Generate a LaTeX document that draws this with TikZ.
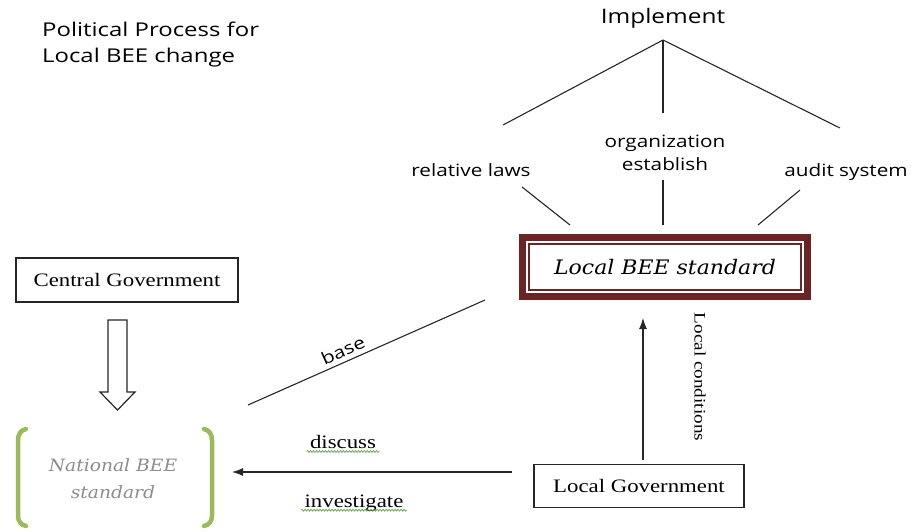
\documentclass[tikz,border=0pt]{standalone}
\usepackage{fontspec}
\setmainfont[FakeStretch=1.2]{Liberation Serif}
\newfontfamily\procsans[FakeStretch=1.22]{Open Sans}
\newfontfamily\titlesans[FakeStretch=1.26]{Open Sans}
\newfontfamily\stdserif[FakeStretch=1.1]{DejaVu Serif}
\usetikzlibrary{arrows.meta,positioning,fit,decorations.pathmorphing}
\definecolor{framered}{HTML}{6A2424}
\definecolor{bracketgreen}{HTML}{9BBB59}
\definecolor{spellgreen}{HTML}{4E9A3A}

\begin{document}
\begin{tikzpicture}[x=1pt, y=-1pt,
    heading/.style={font=\titlesans\fontsize{19}{26}\selectfont, align=left, anchor=west, inner sep=0pt},
    tag/.style={font=\procsans\fontsize{17}{23}\selectfont, align=center, inner sep=0pt},
    govbox/.style={draw=black!85, line width=1.3pt, font=\fontsize{19}{22}\selectfont},
    stdbox/.style={draw=framered, line width=1.6pt, minimum width=272pt, minimum height=46pt,
        font=\stdserif\itshape\fontsize{20}{22}\selectfont},
    edge/.style={draw=black!85, line width=1.1pt},
    spell/.style={draw=spellgreen, line width=0.6pt, decorate,
        decoration={snake, amplitude=1pt, segment length=3pt}}
]
\useasboundingbox (0,0) rectangle (914,531);

% title
\node[heading] (title) at (42,45) {Political Process for\\Local BEE change};

% implementation tree
\node[tag, font=\procsans\fontsize{20}{24}\selectfont] (impl) at (663,18) {Implement};
\coordinate (apex) at (663,40);
\coordinate (lawtop) at (503,125);
\coordinate (orgtop) at (663,113);
\coordinate (audtop) at (840,128);
\draw[edge] (lawtop) -- (apex) -- (audtop);
\draw[edge] (apex) -- (orgtop);

\node[tag] (laws) at (471,170) {relative laws};
\node[tag] (org) at (665,153) {organization\\establish};
\node[tag] (audit) at (846,172) {audit system};

\coordinate (lawfoot) at (522,187);
\coordinate (orgfoot) at (663,180);
\coordinate (audfoot) at (800,190);
\coordinate (lawend) at (570,225);
\coordinate (orgend) at (663,225);
\coordinate (audend) at (758,225);
\draw[edge] (lawfoot) -- (lawend);
\draw[edge] (orgfoot) -- (orgend);
\draw[edge] (audfoot) -- (audend);

% local standard, double frame
\node[stdbox] (localstd) at (665,267) {Local BEE standard};
\node[draw=framered, line width=7pt, inner sep=6pt, fit=(localstd)] (stdframe) {};

% governments
\node[govbox, minimum width=222pt, minimum height=44pt] (central) at (127,280) {Central Government};
\node[govbox, minimum width=210pt, minimum height=43pt] (locgov) at (639,486) {Local Government};

% hollow arrow down to the national standard
\draw[line width=1.2pt, black!85]
    (108,320) -- (127,320) -- (127,392) -- (135,392) -- (117.5,410)
    -- (100,392) -- (108,392) -- cycle;

% national standard in brackets
\node[font=\stdserif\itshape\fontsize{17}{27}\selectfont, text=black!45, align=center] (national) at (113,479)
    {National BEE\\standard};
\draw[bracketgreen, line width=4.5pt, line cap=round]
    (26,429) to[out=190,in=90] (18,440) -- (18,516) to[out=-90,in=170] (26,526);
\draw[bracketgreen, line width=4.5pt, line cap=round]
    (204,429) to[out=-10,in=90] (212,440) -- (212,516) to[out=-90,in=10] (204,526);

% base line
\coordinate (basefoot) at (248,405);
\coordinate (basetop) at (485,300);
\draw[edge] (basefoot) -- node[above=1pt, sloped, pos=0.42, font=\procsans\fontsize{17}{20}\selectfont] {base} (basetop);

% discuss / investigate
\coordinate (discstart) at (512,472);
\coordinate (discend) at (232,472);
\draw[edge, -{Latex[length=11pt, width=8pt]}] (discstart) -- (discend);
\node[font=\fontsize{19}{22}\selectfont] (discuss) at (343,442) {discuss};
\node[font=\fontsize{19}{22}\selectfont] (invest) at (354,503) {investigate};
\draw[spell] ([yshift=-3pt]discuss.base west) -- ([yshift=-3pt]discuss.base east);
\draw[spell] ([yshift=-3pt]invest.base west) -- ([yshift=-3pt]invest.base east);

% local conditions
\coordinate (condfoot) at (643,460);
\coordinate (condtip) at (643,318);
\draw[edge, -{Latex[length=11pt, width=8pt]}] (condfoot) -- (condtip);
\node[rotate=-90, font=\fontsize{16}{20}\selectfont] (cond) at (700,377) {Local conditions};
\end{tikzpicture}
\end{document}
